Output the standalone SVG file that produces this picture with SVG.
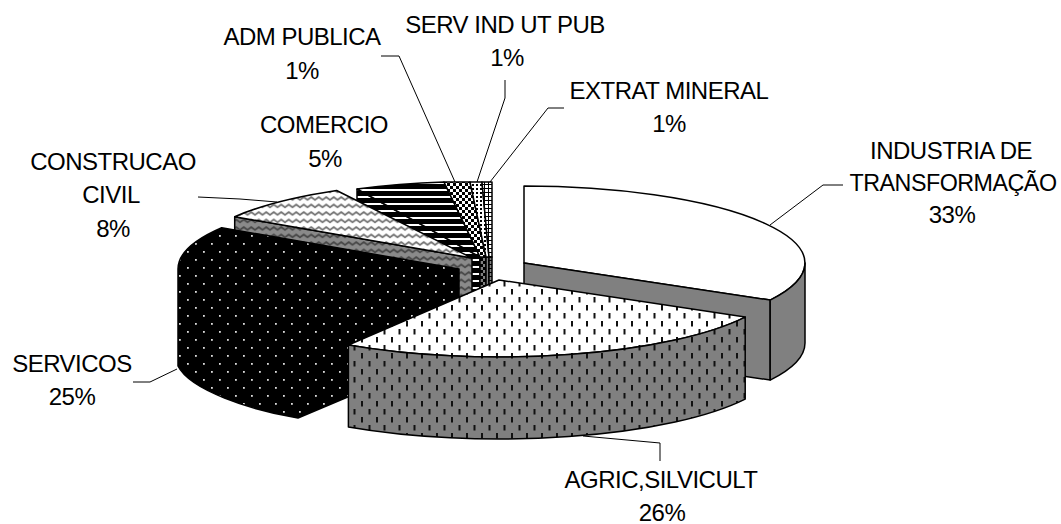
<svg xmlns="http://www.w3.org/2000/svg" width="1061" height="524" viewBox="0 0 1061 524">
<style>
.t{font-family:"Liberation Sans",Arial,sans-serif;font-size:24px;letter-spacing:-0.5px;text-anchor:middle;fill:#000}
.f{stroke:#000;stroke-width:1.5;stroke-linejoin:round}
.ld{fill:none;stroke:#000;stroke-width:1}
</style>
<defs>
<pattern id="pAgT" width="15" height="16" patternUnits="userSpaceOnUse"><rect width="15" height="16" fill="#fff"/><rect x="1" y="1" width="2" height="5.5" fill="#111"/><rect x="8.5" y="9" width="2" height="5.5" fill="#111"/></pattern>
<pattern id="pAgS" width="15" height="16" patternUnits="userSpaceOnUse"><rect width="15" height="16" fill="#808080"/><rect x="1" y="1" width="2" height="5.5" fill="#111"/><rect x="8.5" y="9" width="2" height="5.5" fill="#111"/></pattern>
<pattern id="pSv" width="16" height="16" patternUnits="userSpaceOnUse"><rect width="16" height="16" fill="#000"/><rect x="3" y="3" width="1.8" height="1.8" fill="#ddd"/><rect x="11" y="11" width="1.8" height="1.8" fill="#ddd"/></pattern>
<pattern id="pCoT" width="7.5" height="7.5" patternUnits="userSpaceOnUse"><rect width="7.5" height="7.5" fill="#fff"/><path d="M-0.5,5.2 L3.75,2 L8,5.2" fill="none" stroke="#707070" stroke-width="1.8"/></pattern>
<pattern id="pCoS" width="7.5" height="7.5" patternUnits="userSpaceOnUse"><rect width="7.5" height="7.5" fill="#8a8a8a"/><path d="M-0.5,5.2 L3.75,2 L8,5.2" fill="none" stroke="#454545" stroke-width="1.8"/></pattern>
<pattern id="pCm" width="8" height="7" patternUnits="userSpaceOnUse"><rect width="8" height="7" fill="#000"/><rect y="0" width="8" height="2" fill="#fff"/></pattern>
<pattern id="pAd" width="6" height="6" patternUnits="userSpaceOnUse"><rect width="6" height="6" fill="#fff"/><rect width="3" height="3" fill="#000"/><rect x="3" y="3" width="3" height="3" fill="#000"/></pattern>
<pattern id="pAdS" width="6" height="6" patternUnits="userSpaceOnUse"><rect width="6" height="6" fill="#808080"/><rect width="3" height="3" fill="#000"/><rect x="3" y="3" width="3" height="3" fill="#000"/></pattern>
<pattern id="pSu" width="4" height="4" patternUnits="userSpaceOnUse"><rect width="4" height="4" fill="#fff"/><rect width="2" height="2" fill="#000"/></pattern>
<pattern id="pSuS" width="4" height="4" patternUnits="userSpaceOnUse"><rect width="4" height="4" fill="#808080"/><rect width="2" height="2" fill="#000"/></pattern>
<pattern id="pEx" width="4" height="4" patternUnits="userSpaceOnUse"><rect width="4" height="4" fill="#fff"/><path d="M0,0.5 H4 M0.5,0 V4" stroke="#000" stroke-width="1"/></pattern>
<pattern id="pExS" width="4" height="4" patternUnits="userSpaceOnUse"><rect width="4" height="4" fill="#808080"/><path d="M0,0.5 H4 M0.5,0 V4" stroke="#000" stroke-width="1"/></pattern>
</defs>
<rect width="1061" height="524" fill="#fff"/>

<g id="comercio">
<path class="f" fill="url(#pCm)" d="M480,257 L357,189 L357,270 L480,338 Z"/>
<path class="f" fill="url(#pCm)" d="M480,257 L357,189 A281,77 0 0 1 444,182 Z"/>
<text class="t" x="324" y="133">COMERCIO</text>
<text class="t" x="325" y="167">5%</text>
</g>

<g id="adm-publica">
<path class="f" fill="url(#pAdS)" d="M480,257 H486 V300 H480 Z"/>
<path class="f" fill="url(#pAd)" d="M444,182 L470,182 L486,257 L480,257 Z"/>
<text class="t" x="302" y="45">ADM PUBLICA</text>
<text class="t" x="302" y="79">1%</text>
</g>

<g id="serv-ind-ut-pub">
<path class="f" fill="url(#pSuS)" d="M486,257 H489 V300 H486 Z"/>
<path class="f" fill="url(#pSu)" d="M470,182 L482,182 L489,257 L486,257 Z"/>
<text class="t" x="505" y="33">SERV IND UT PUB</text>
<text class="t" x="507" y="66">1%</text>
</g>

<g id="extrat-mineral">
<path class="f" fill="url(#pExS)" d="M489,257 H492 V300 H489 Z"/>
<path class="f" fill="url(#pEx)" d="M482,182 L492,182 L492,257 L489,257 Z"/>
<text class="t" x="669" y="99">EXTRAT MINERAL</text>
<text class="t" x="669" y="132">1%</text>
</g>

<g id="construcao-civil">
<path class="f" fill="url(#pCoS)" d="M472,258 L234.7,216.7 L234.7,297.7 L472,339 Z"/>
<path class="f" fill="url(#pCoT)" d="M472,258 L234.7,216.7 A281,77 0 0 1 336.6,190.5 Z"/>
<text class="t" x="113" y="170">CONSTRUCAO</text>
<text class="t" x="111" y="203">CIVIL</text>
<text class="t" x="113" y="237">8%</text>
</g>

<g id="industria">
<path class="f" fill="#fff" d="M524,263 L524,186 A281,77 0 0 1 770.2,300.1 Z"/>
<path class="f" fill="#808080" d="M524,263 L770.2,300.1 L770.2,380.1 L524,343 Z"/>
<path class="f" fill="#808080" d="M805,263 A281,77 0 0 1 770.2,300.1 L770.2,380.1 A281,77 0 0 0 805,343 Z"/>
<text class="t" x="951" y="159">INDUSTRIA DE</text>
<text class="t" x="953" y="191" textLength="207" lengthAdjust="spacingAndGlyphs">TRANSFORMAÇÃO</text>
<text class="t" x="952" y="223">33%</text>
</g>

<g id="servicos">
<path class="f" fill="url(#pSv)" d="M459,269 L221.7,227.7 A281,77 0 0 0 178,269 L178,366 C190,390 250,410 298,418 L459,350 Z"/>
<text class="t" x="72" y="372">SERVICOS</text>
<text class="t" x="72" y="405">25%</text>
</g>

<g id="agric-silvicult">
<path class="f" fill="url(#pAgT)" d="M499,280 L745.2,317.1 A281,77 0 0 1 348.4,345 Z"/>
<path class="f" fill="url(#pAgS)" d="M745.2,317.1 A281,77 0 0 1 348.4,345 L348.4,427 A281,77 0 0 0 745.2,399.1 Z"/>
<text class="t" x="661" y="488">AGRIC,SILVICULT</text>
<text class="t" x="662" y="521">26%</text>
</g>

<g id="connectors">
<polyline class="ld" points="381,56 399,56 455,182"/>
<polyline class="ld" points="505,80 505,98 477,182"/>
<polyline class="ld" points="564,108 548,108 490,182"/>
<polyline class="ld" points="770,225 823,185 843,185"/>
<polyline class="ld" points="198,197 240,199 277,202"/>
<polyline class="ld" points="133,382 150,382 177,369"/>
<polyline class="ld" points="583,436 660,443 660,461"/>
</g>
</svg>
